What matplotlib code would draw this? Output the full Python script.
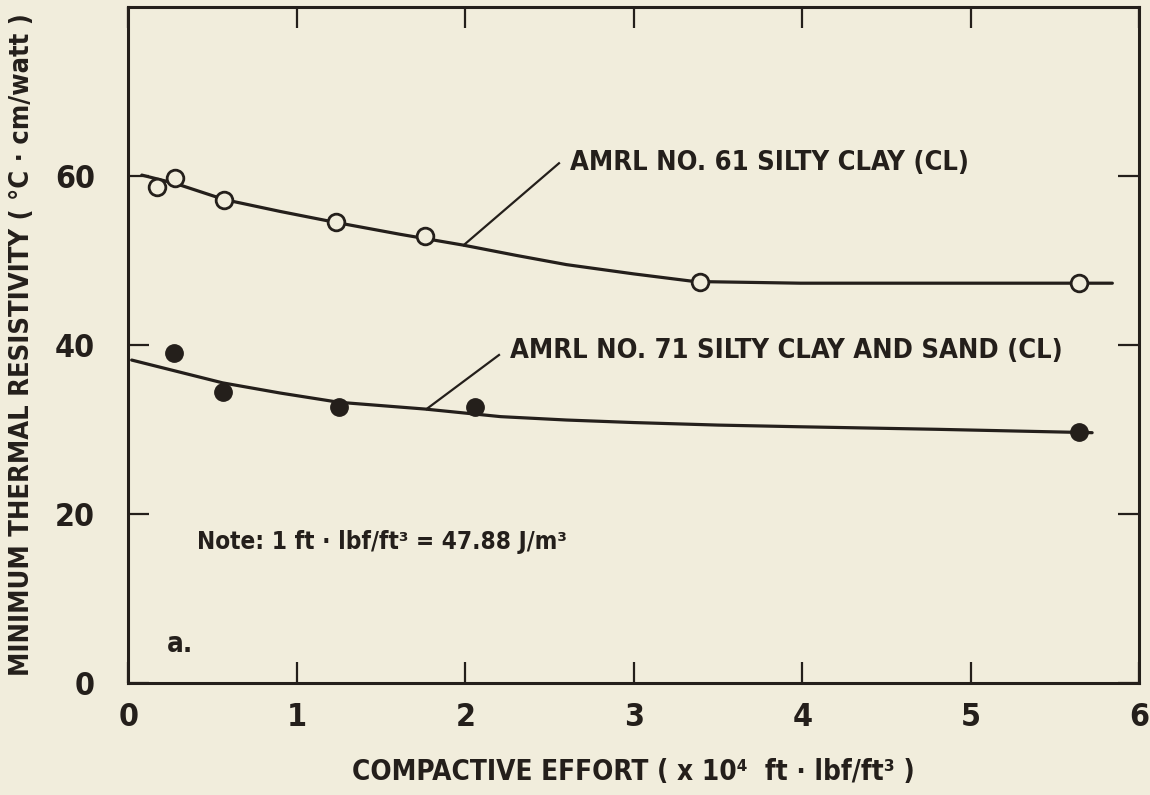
import numpy as np
import matplotlib
matplotlib.use("Agg")
import matplotlib.pyplot as plt

# данные
x_61 = [0.17, 0.28, 0.57, 1.23, 1.76, 3.39, 5.64]
y_61 = [58.7, 59.7, 57.2, 54.5, 52.9, 47.4, 47.3]
x_71 = [0.27, 0.56, 1.25, 2.06, 5.64]
y_71 = [39.0, 34.4, 32.6, 32.6, 29.7]

# сглаженные кривые (по точкам с рисунка)
cx_61 = [0.08, 0.28, 0.57, 0.90, 1.23, 1.61, 1.99, 2.30, 2.60, 3.00, 3.36, 3.99, 5.00, 5.84]
cy_61 = [60.1, 59.1, 57.2, 55.8, 54.5, 53.1, 51.8, 50.6, 49.5, 48.4, 47.5, 47.3, 47.3, 47.3]
cx_71 = [0.02, 0.30, 0.56, 0.90, 1.25, 1.76, 2.21, 2.60, 3.00, 3.50, 3.99, 4.80, 5.72]
cy_71 = [38.2, 36.8, 35.5, 34.3, 33.2, 32.4, 31.5, 31.1, 30.8, 30.5, 30.3, 30.0, 29.6]

x_ticks = [0, 1, 2, 3, 4, 5, 6]
y_ticks = [0, 20, 40, 60]

bg = '#f1eddc'
ink = '#241f1b'
fam = ['Noto Sans ExtraCondensed', 'Noto Sans Condensed', 'DejaVu Sans Condensed', 'DejaVu Sans']
plt.rcParams['font.family'] = fam
plt.rcParams['font.weight'] = 'bold'
plt.rcParams['font.stretch'] = 'condensed'
plt.rcParams['axes.labelweight'] = 'bold'

fig = plt.figure(figsize=(11.5, 7.95), dpi=100, facecolor=bg)
ax = fig.add_axes([128.3 / 1150, 1 - 682.7 / 795, (1139.3 - 128.3) / 1150, (682.7 - 7) / 795])
ax.set_facecolor(bg)

ax.plot(cx_61, cy_61, color=ink, lw=2.3, solid_capstyle='round')
ax.plot(cx_71, cy_71, color=ink, lw=2.3, solid_capstyle='round')
ax.plot(x_61, y_61, 'o', ms=12, mfc=bg, mec=ink, mew=2.0)
ax.plot(x_71, y_71, 'o', ms=12.5, mfc=ink, mec=ink)

# выноски
ax.plot([1.99, 2.556], [51.8, 61.5], color=ink, lw=1.6)
ax.plot([1.77, 2.20], [32.4, 38.8], color=ink, lw=1.6)
ax.text(2.62, 61.5, 'AMRL NO. 61 SILTY CLAY (CL)', fontsize=19.5, color=ink, va='center', ha='left')
ax.text(2.265, 39.3, 'AMRL NO. 71 SILTY CLAY AND SAND (CL)', fontsize=19.5, color=ink, va='center', ha='left')
ax.text(0.41, 16.7, 'Note: 1 ft · lbf/ft³ = 47.88 J/m³', fontsize=17.5, color=ink, va='center', ha='left')
ax.text(0.23, 4.6, 'a.', fontsize=20, color=ink, va='center', ha='left')

ax.set_xlim(0, 6)
ax.set_ylim(0, 80)
ax.set_xticks(x_ticks)
ax.set_yticks(y_ticks)
ax.tick_params(direction='in', length=15, width=1.6, colors=ink, labelsize=23,
               top=True, right=True, labeltop=False, labelright=False)
ax.tick_params(axis='x', pad=14)
ax.tick_params(axis='y', pad=24)
for s in ax.spines.values():
    s.set_linewidth(2.2)
    s.set_color(ink)

ax.set_xlabel('COMPACTIVE EFFORT ( x 10⁴  ft · lbf/ft³ )', fontsize=20, color=ink, labelpad=18)
ax.set_ylabel('MINIMUM THERMAL RESISTIVITY ( °C · cm/watt )', fontsize=19.5, color=ink)
ax.yaxis.set_label_coords(-0.092, 0.5)

fig.savefig('out.png', dpi=100, facecolor=bg)
